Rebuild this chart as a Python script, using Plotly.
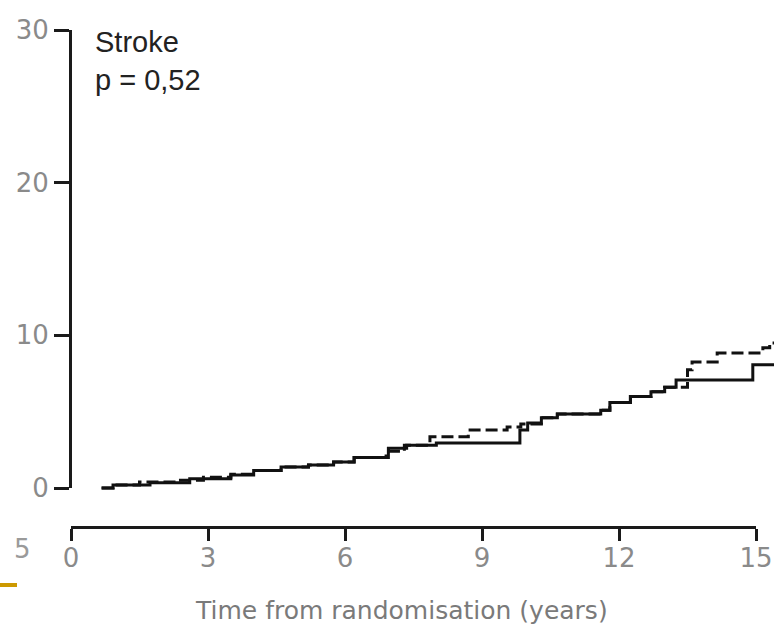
import plotly.graph_objects as go

# ---- data ----
solid_t = [0.67, 0.92, 1.73, 2.6, 3.5, 4.0, 4.6, 5.2, 5.75, 6.2, 6.95, 7.35, 8.0, 9.83, 10.0,
           10.3, 10.65, 11.6, 11.8, 12.25, 12.7, 13.0, 13.25, 14.93, 15.4]
solid_v = [0.0, 0.2, 0.35, 0.6, 0.85, 1.15, 1.38, 1.5, 1.7, 2.0, 2.6, 2.8, 2.95, 3.8, 4.25,
           4.6, 4.85, 5.1, 5.6, 6.0, 6.3, 6.6, 7.08, 8.07, 8.07]

dash_t = [0.67, 0.92, 1.5, 2.3, 2.9, 3.5, 4.0, 4.6, 5.2, 5.75, 6.2, 6.9, 7.3, 7.86, 8.7, 9.55,
          9.85, 10.3, 10.65, 11.6, 11.8, 12.25, 12.7, 13.0, 13.5, 13.6, 14.15, 15.15, 15.3, 15.4]
dash_v = [0.0, 0.2, 0.4, 0.5, 0.7, 0.9, 1.15, 1.38, 1.5, 1.7, 2.0, 2.4, 2.8, 3.35, 3.8, 4.0,
          4.2, 4.6, 4.85, 5.1, 5.6, 6.0, 6.3, 6.6, 7.74, 8.26, 8.85, 9.18, 9.5, 9.5]

x_ticks = [0, 3, 6, 9, 12, 15]
y_ticks = [0, 10, 20, 30]
x_title = "Time from randomisation (years)"
panel_text = "Stroke<br>p = 0,52"

W, H = 774, 637
# pixel geometry of the reference
x0_px, x15_px = 71, 756
y0_px, y30_px = 488, 30
xaxis_px = 527
yaxis_px = 70

sx = (x15_px - x0_px) / 15.0
sy = (y0_px - y30_px) / 30.0
x_range = [-x0_px / sx, (W - x0_px) / sx]
y_range = [-(H - y0_px) / sy, y0_px / sy]

fig = go.Figure()
fig.add_trace(go.Scatter(x=solid_t, y=solid_v, mode="lines", line_shape="hv",
                         line=dict(color="#111111", width=3), showlegend=False, hoverinfo="skip"))
fig.add_trace(go.Scatter(x=dash_t, y=dash_v, mode="lines", line_shape="hv",
                         line=dict(color="#111111", width=3, dash="12px,5px"),
                         showlegend=False, hoverinfo="skip"))
# invisible trace to create the display-axis subplot
fig.add_trace(go.Scatter(x=[None], y=[None], xaxis="x2", yaxis="y2", showlegend=False))

tickfont = dict(family="DejaVu Sans", size=26, color="#8a8a8a")

fig.update_layout(
    width=W, height=H, margin=dict(l=0, r=0, t=0, b=0, pad=0, autoexpand=False),
    paper_bgcolor="white", plot_bgcolor="rgba(0,0,0,0)",
    xaxis=dict(domain=[0, 1], range=x_range, visible=False, automargin=False),
    yaxis=dict(domain=[0, 1], range=y_range, visible=False, automargin=False),
    xaxis2=dict(domain=[x0_px / W, x15_px / W], range=[0, 15], anchor="free",
                position=(H - xaxis_px) / H, showline=True, linecolor="#1a1a1a", linewidth=3,
                ticks="outside", ticklen=12, tickwidth=3, tickcolor="#1a1a1a",
                tickvals=x_ticks, ticktext=[str(t) for t in x_ticks], tickfont=tickfont,
                ticklabelstandoff=-5,
                showgrid=False, zeroline=False, automargin=False),
    yaxis2=dict(domain=[(H - y0_px) / H, (H - y30_px) / H], range=[0, 30], anchor="free",
                position=yaxis_px / W, showline=True, linecolor="#1a1a1a", linewidth=3,
                ticks="outside", ticklen=15, tickwidth=3, tickcolor="#1a1a1a",
                tickvals=y_ticks, ticktext=[str(t) for t in y_ticks], tickfont=tickfont,
                showgrid=False, zeroline=False, automargin=False),
    annotations=[
        dict(text=panel_text, xref="paper", yref="paper", x=93 / W, y=1 - 24 / H,
             xanchor="left", yanchor="top", align="left", showarrow=False,
             font=dict(family="Liberation Sans", size=29, color="#222222")),
        dict(text=x_title, xref="paper", yref="paper", x=401 / W, y=1 - 610 / H,
             xanchor="center", yanchor="middle", showarrow=False,
             font=dict(family="DejaVu Sans", size=25, color="#7a7a7a")),
        dict(text="5", xref="paper", yref="paper", x=22 / W, y=1 - 549 / H,
             xanchor="center", yanchor="middle", showarrow=False,
             font=dict(family="DejaVu Sans", size=26, color="#9a9a9a")),
    ],
    shapes=[
        dict(type="line", xref="paper", yref="paper", x0=0, x1=17 / W,
             y0=1 - 585 / H, y1=1 - 585 / H, line=dict(color="#cc9900", width=4)),
    ],
)

fig.write_html("out.html")
